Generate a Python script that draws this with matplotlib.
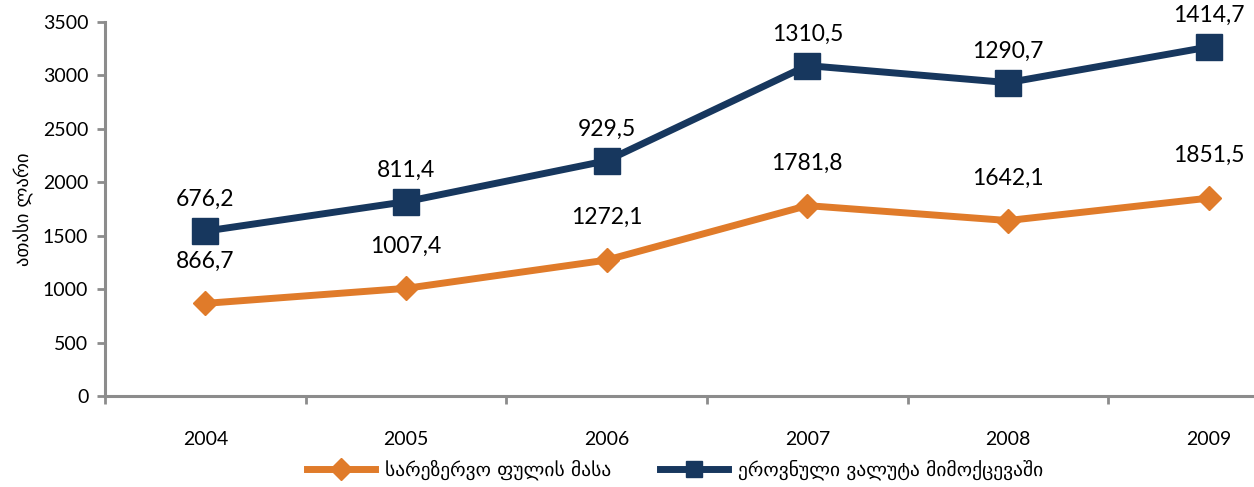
import matplotlib
matplotlib.use('Agg')
import matplotlib.pyplot as plt
import numpy as np

years = ['2004', '2005', '2006', '2007', '2008', '2009']
reserve_money = [866.7, 1007.4, 1272.1, 1781.8, 1642.1, 1851.5]
foreign_cash = [676.2, 811.4, 929.5, 1310.5, 1290.7, 1414.7]

orange = '#E07B2A'
navy = '#17375E'
grey = '#8C8C8C'

plt.rcParams['font.family'] = ['Lato', 'DejaVu Sans']

fig = plt.figure(figsize=(12.54, 4.87), dpi=100)
ax = fig.add_axes([105/1254, 1-396/487, (1309-105)/1254, (396-22)/487])

x = np.arange(len(years))
total = np.array(reserve_money) + np.array(foreign_cash)

ax.plot(x, reserve_money, color=orange, lw=5, marker='D', ms=12,
        label='სარეზერვო ფულის მასა', zorder=3)
ax.plot(x, total, color=navy, lw=5, marker='s', ms=19,
        label='ეროვნული ვალუტა მიმოქცევაში', zorder=3)

# data labels
for xi, v in zip(x, reserve_money):
    ax.annotate(f'{v:.1f}'.replace('.', ','), (xi, v), xytext=(0, 23),
                textcoords='offset points', ha='center', va='bottom',
                fontsize=16.5, color='black')
for xi, t, v in zip(x, total, foreign_cash):
    ax.annotate(f'{v:.1f}'.replace('.', ','), (xi, t), xytext=(0, 15),
                textcoords='offset points', ha='center', va='bottom',
                fontsize=16.5, color='black')

ax.set_xlim(-0.5, 5.5)
ax.set_ylim(0, 3500)
ax.set_yticks(np.arange(0, 3501, 500))
ax.set_xticks(x)
ax.set_xticklabels(years)
ax.set_xticks(np.arange(-0.5, 6, 1), minor=True)
ax.tick_params(axis='x', which='major', length=0, pad=25, labelsize=14)
ax.tick_params(axis='x', which='minor', length=6, width=2, color=grey)
ax.tick_params(axis='y', length=6, width=2, color=grey, labelsize=14, pad=6)

for s in ['top', 'right']:
    ax.spines[s].set_visible(False)
for s in ['left', 'bottom']:
    ax.spines[s].set_color(grey)
    ax.spines[s].set_linewidth(2.2)

ax.set_ylabel('ათასი ლარი', fontsize=13.5, family=['DejaVu Sans'], labelpad=6)

leg = fig.legend(loc='center', bbox_to_anchor=(675/1254, 1-470/487), ncol=2,
                 frameon=False, handlelength=3.5, columnspacing=2.5,
                 handletextpad=0.5, prop={'family': ['DejaVu Sans'], 'size': 14})
for h in leg.legend_handles:
    h.set_markersize(11)

fig.savefig('out.png', dpi=100)
